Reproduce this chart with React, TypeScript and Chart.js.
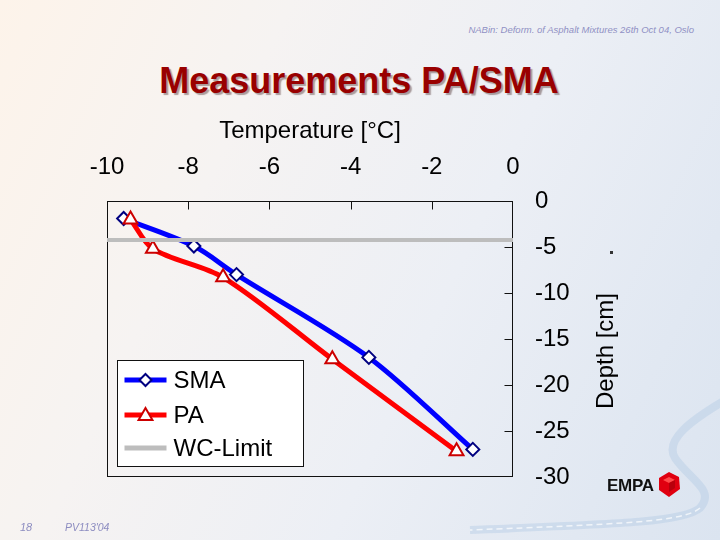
import React, { useEffect, useRef } from "react";
import { Chart, registerables } from "chart.js";

Chart.register(...registerables);

const FAMILY = "'Liberation Sans', Arial, Helvetica, sans-serif";

// ---- data ----
const seriesNames = ["SMA", "PA", "WC-Limit"];
const smaTemp = [-9.59, -7.86, -6.81, -3.55, -0.99];
const smaDepth = [-1.9, -4.9, -8.0, -17.0, -27.0];
const paTemp = [-9.42, -8.87, -7.14, -4.45, -1.39];
const paDepth = [-2.0, -5.2, -8.3, -17.2, -27.2];
const wcTemp = [-10, 0];
const wcDepth = [-4.25, -4.25];
const tempTicks = [-10, -8, -6, -4, -2, 0];
const depthTicks = [0, -5, -10, -15, -20, -25, -30];

const SMA_LINE = "#0000ff";
const SMA_MARK = "#000080";
const PA_LINE = "#ff0000";
const PA_MARK = "#cc0000";
const WC_LINE = "#bdbdbd";

function drawDiamond(ctx: CanvasRenderingContext2D, x: number, y: number, r: number) {
  ctx.beginPath();
  ctx.moveTo(x, y - r);
  ctx.lineTo(x + r, y);
  ctx.lineTo(x, y + r);
  ctx.lineTo(x - r, y);
  ctx.closePath();
  ctx.fillStyle = "#ffffff";
  ctx.fill();
  ctx.lineWidth = 2;
  ctx.strokeStyle = SMA_MARK;
  ctx.stroke();
}

function drawTriangle(ctx: CanvasRenderingContext2D, x: number, y: number, r: number) {
  const s = Math.sin(Math.PI / 3) * r;
  ctx.beginPath();
  ctx.moveTo(x, y - r);
  ctx.lineTo(x + s, y + r / 2);
  ctx.lineTo(x - s, y + r / 2);
  ctx.closePath();
  ctx.fillStyle = "#ffffff";
  ctx.fill();
  ctx.lineWidth = 2;
  ctx.strokeStyle = PA_MARK;
  ctx.stroke();
}

const framePlugin = {
  id: "frameAndLegend",
  beforeDatasetsDraw(chart: any) {
    const ctx: CanvasRenderingContext2D = chart.ctx;
    const ca = chart.chartArea;
    const xs = chart.scales.x;
    const ys = chart.scales.y;
    ctx.save();
    ctx.strokeStyle = "#111";
    ctx.lineWidth = 1;
    const l = Math.round(ca.left) + 0.5;
    const t = Math.round(ca.top) + 0.5;
    const r = Math.round(ca.right) - 0.5;
    const b = Math.round(ca.bottom) - 0.5;
    ctx.strokeRect(l, t, r - l, b - t);
    ctx.beginPath();
    tempTicks.slice(1, -1).forEach((v) => {
      const px = Math.round(xs.getPixelForValue(v)) + 0.5;
      ctx.moveTo(px, t);
      ctx.lineTo(px, t + 8);
    });
    depthTicks.slice(1, -1).forEach((v) => {
      const py = Math.round(ys.getPixelForValue(v)) + 0.5;
      ctx.moveTo(r - 8, py);
      ctx.lineTo(r, py);
    });
    ctx.stroke();
    ctx.restore();
  },
  afterDatasetsDraw(chart: any) {
    const ctx: CanvasRenderingContext2D = chart.ctx;
    const ca = chart.chartArea;
    ctx.save();
    // y axis title, reading bottom-to-top
    ctx.translate(ca.right + 93, (ca.top + ca.bottom) / 2 + 12);
    ctx.rotate(-Math.PI / 2);
    ctx.font = `24px ${FAMILY}`;
    ctx.fillStyle = "#000";
    ctx.textAlign = "center";
    ctx.textBaseline = "middle";
    ctx.fillText("Depth [cm]", 0, 0);
    ctx.restore();

    // legend box inside the plot
    const lx = ca.left + 10.5;
    const ly = 360.5;
    const lw = 186;
    const lh = 106;
    ctx.save();
    ctx.fillStyle = "#ffffff";
    ctx.fillRect(lx, ly, lw, lh);
    ctx.strokeStyle = "#111";
    ctx.lineWidth = 1;
    ctx.strokeRect(lx, ly, lw, lh);
    const rows = [380, 415, 448];
    const colors = [SMA_LINE, PA_LINE, WC_LINE];
    const widths = [5, 5, 5];
    rows.forEach((ry, i) => {
      ctx.beginPath();
      ctx.moveTo(lx + 7, ry);
      ctx.lineTo(lx + 49, ry);
      ctx.strokeStyle = colors[i];
      ctx.lineWidth = widths[i];
      ctx.stroke();
      const mx = lx + 28;
      if (i === 0) drawDiamond(ctx, mx, ry, 6);
      if (i === 1) drawTriangle(ctx, mx, ry + 1, 8);
      ctx.font = `24px ${FAMILY}`;
      ctx.fillStyle = "#000";
      ctx.textAlign = "left";
      ctx.textBaseline = "middle";
      ctx.fillText(seriesNames[i], lx + 56, ry + 1);
    });
    ctx.restore();
  },
};

function ChartCanvas() {
  const ref = useRef<HTMLCanvasElement | null>(null);
  useEffect(() => {
    if (!ref.current) return;
    const tickFont = { family: FAMILY, size: 24 };
    const chart = new Chart(ref.current, {
      type: "line",
      data: {
        datasets: [
          {
            label: seriesNames[0],
            data: smaTemp.map((x, i) => ({ x, y: smaDepth[i] })),
            borderColor: SMA_LINE,
            borderWidth: 5,
            tension: 0.3,
            pointStyle: "rectRot",
            pointRadius: 6.5,
            pointBorderWidth: 2,
            pointBorderColor: SMA_MARK,
            pointBackgroundColor: "#ffffff",
            order: 2,
          },
          {
            label: seriesNames[1],
            data: paTemp.map((x, i) => ({ x, y: paDepth[i] })),
            borderColor: PA_LINE,
            borderWidth: 5,
            tension: 0.3,
            pointStyle: "triangle",
            pointRadius: 8,
            pointBorderWidth: 2,
            pointBorderColor: PA_MARK,
            pointBackgroundColor: "#ffffff",
            order: 1,
          },
          {
            label: seriesNames[2],
            data: wcTemp.map((x, i) => ({ x, y: wcDepth[i] })),
            borderColor: WC_LINE,
            borderWidth: 4,
            pointRadius: 0,
            tension: 0,
            order: 0,
          },
        ],
      },
      options: {
        animation: false,
        responsive: false,
        maintainAspectRatio: false,
        layout: { padding: { left: 107, right: 0, top: 0, bottom: 63 } },
        plugins: {
          legend: { display: false },
          tooltip: { enabled: false },
        },
        scales: {
          x: {
            type: "linear",
            position: "top",
            min: -10,
            max: 0,
            afterBuildTicks: (s: any) => {
              s.ticks = tempTicks.map((v) => ({ value: v }));
            },
            afterFit: (s: any) => {
              s.height = 201;
            },
            ticks: {
              font: tickFont,
              color: "#000",
              padding: 19,
              maxRotation: 0,
              autoSkip: false,
              callback: (v: any) => String(v),
            },
            grid: { display: false, drawTicks: false },
            border: { display: false },
            title: {
              display: true,
              text: "Temperature [°C]",
              font: tickFont,
              color: "#000",
              padding: { top: 117, bottom: 0 },
            },
          },
          y: {
            type: "linear",
            position: "right",
            min: -30,
            max: 0,
            afterBuildTicks: (s: any) => {
              s.ticks = depthTicks.map((v) => ({ value: v }));
            },
            afterFit: (s: any) => {
              s.width = 207;
            },
            ticks: {
              font: tickFont,
              color: "#000",
              padding: 22,
              autoSkip: false,
              callback: (v: any) => String(v),
            },
            grid: { display: false, drawTicks: false },
            border: { display: false },
          },
        },
      },
      plugins: [framePlugin],
    } as any);
    return () => chart.destroy();
  }, []);
  return (
    <canvas
      ref={ref}
      width={720}
      height={540}
      style={{ position: "absolute", left: 0, top: 0, width: 720, height: 540, display: "block" }}
    />
  );
}

export default function App() {
  return (
    <div
      style={{
        position: "absolute",
        left: 0,
        top: 0,
        width: 720,
        height: 540,
        overflow: "hidden",
        fontFamily: FAMILY,
        background:
          "linear-gradient(115deg, #fdf3ea 0%, #f6f3f2 30%, #eceff5 60%, #e1e8f2 85%, #dbe4f0 100%)",
      }}
    >
      <svg
        width={720}
        height={540}
        style={{ position: "absolute", left: 0, top: 0 }}
      >
        <path
          d="M 722 402 C 692 420, 664 440, 675 458 C 690 480, 716 490, 700 508 C 684 522, 620 524, 470 530"
          fill="none"
          stroke="rgba(175,200,228,0.4)"
          strokeWidth={8}
        />
        <path
          d="M 700 508 C 684 522, 620 524, 470 530"
          fill="none"
          stroke="rgba(255,255,255,0.7)"
          strokeWidth={1.5}
          strokeDasharray="6 4"
        />
      </svg>
      <div
        style={{
          position: "absolute",
          right: 26,
          top: 24,
          fontSize: 9.5,
          lineHeight: "12px",
          fontStyle: "italic",
          color: "#9090c4",
          whiteSpace: "nowrap",
        }}
      >
        NABin: Deform. of Asphalt Mixtures 26th Oct 04, Oslo
      </div>
      <div
        style={{
          position: "absolute",
          left: 0,
          width: 718,
          top: 63,
          textAlign: "center",
          fontSize: 36,
          lineHeight: "36px",
          fontWeight: "bold",
          color: "#990000",
          textShadow: "2px 2px 1px rgba(80,50,50,0.45)",
          whiteSpace: "nowrap",
        }}
      >
        Measurements PA/SMA
      </div>
      <ChartCanvas />
      <div
        style={{
          position: "absolute",
          left: 610,
          top: 251,
          width: 3,
          height: 3,
          background: "#333",
        }}
      />
      <div
        style={{
          position: "absolute",
          left: 607,
          top: 477,
          fontSize: 17,
          lineHeight: "17px",
          fontWeight: "bold",
          color: "#111",
          letterSpacing: -0.3,
        }}
      >
        EMPA
      </div>
      <svg width={24} height={28} style={{ position: "absolute", left: 657, top: 471 }}>
        <polygon points="12,1 22,6 23,18 12,26 2,19 2,7" fill="#e00010" />
        <polygon points="12,6 18,9 12,12 6,9" fill="#ff4a4a" />
        <polygon points="12,12 18,9 18,17 12,21" fill="#b8000c" />
      </svg>
      <div
        style={{
          position: "absolute",
          left: 20,
          top: 520,
          fontSize: 11,
          lineHeight: "14px",
          fontStyle: "italic",
          color: "#8c8cc0",
        }}
      >
        18
      </div>
      <div
        style={{
          position: "absolute",
          left: 65,
          top: 520,
          fontSize: 10.5,
          lineHeight: "14px",
          fontStyle: "italic",
          color: "#8c8cc0",
        }}
      >
        PV113'04
      </div>
    </div>
  );
}
